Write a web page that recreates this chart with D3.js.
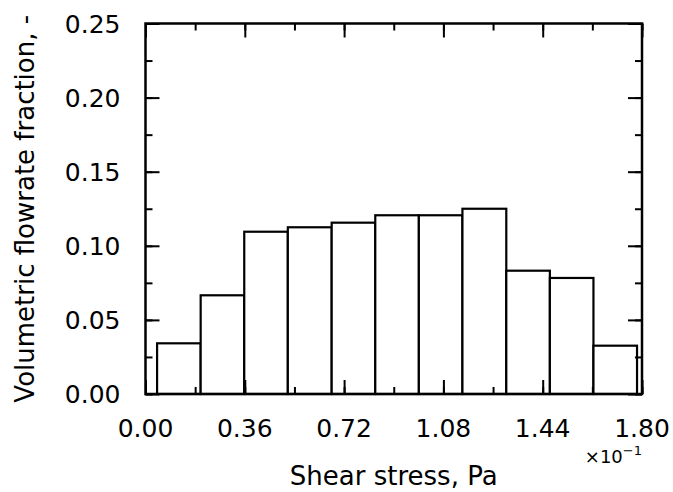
<!DOCTYPE html>
<html>
<head>
<meta charset="utf-8">
<script src="https://cdn.jsdelivr.net/npm/d3@7"></script>
<style>
  body { margin: 0; background: #fff; }
  text { font-family: "DejaVu Sans", sans-serif; fill: #000; }
</style>
</head>
<body>
<div id="chart"></div>
<script>
// bin edges (shear stress, x10^-1 Pa) and fraction in each bin
var binEdges = [0.042, 0.200, 0.358, 0.516, 0.675, 0.833, 0.991, 1.149, 1.308, 1.466, 1.624, 1.782];
var fractions = [0.0342, 0.0666, 0.1095, 0.1125, 0.1156, 0.1206, 0.1206, 0.1250, 0.0832, 0.0783, 0.0326];
var xTicks = [0.00, 0.36, 0.72, 1.08, 1.44, 1.80];
var yTicks = [0.00, 0.05, 0.10, 0.15, 0.20, 0.25];

var width = 673, height = 492;
var margin = {top: 23.5, right: 31, bottom: 98, left: 145.5};
var w = width - margin.left - margin.right,
    h = height - margin.top - margin.bottom;

var svg = d3.select("#chart").append("svg")
    .attr("width", width)
    .attr("height", height);

var g = svg.append("g")
    .attr("transform", "translate(" + margin.left + "," + margin.top + ")");

var x = d3.scaleLinear().domain([0, 1.80]).range([0, w]);
var y = d3.scaleLinear().domain([0, 0.25]).range([h, 0]);

var bins = fractions.map(function(f, i) {
    return {x0: binEdges[i], x1: binEdges[i + 1], v: f};
});

// bars
g.selectAll(".bar")
    .data(bins)
    .enter().append("rect")
    .attr("class", "bar")
    .attr("x", function(d) { return x(d.x0); })
    .attr("y", function(d) { return y(d.v); })
    .attr("width", function(d) { return x(d.x1) - x(d.x0); })
    .attr("height", function(d) { return h - y(d.v); })
    .attr("fill", "#fff")
    .attr("stroke", "#000")
    .attr("stroke-width", 2.2);

// minor tick values
var xMinor = d3.range(0, 11).map(function(i) { return i * 0.18; });
var yMinor = d3.range(0, 11).map(function(i) { return i * 0.025; });

function styleTicks(sel) {
    sel.select(".domain").remove();
    sel.selectAll(".tick line").attr("stroke", "#000").attr("stroke-width", 2);
}

// inward ticks on all four sides
var majorLen = 14, minorLen = 7;

g.append("g").attr("transform", "translate(0," + h + ")")
    .call(d3.axisTop(x).tickValues(xMinor).tickSize(minorLen).tickFormat(""))
    .call(styleTicks);
g.append("g").attr("transform", "translate(0," + h + ")")
    .call(d3.axisTop(x).tickValues(xTicks).tickSize(majorLen).tickFormat(""))
    .call(styleTicks);
g.append("g")
    .call(d3.axisBottom(x).tickValues(xMinor).tickSize(minorLen).tickFormat(""))
    .call(styleTicks);
g.append("g")
    .call(d3.axisBottom(x).tickValues(xTicks).tickSize(majorLen).tickFormat(""))
    .call(styleTicks);

g.append("g")
    .call(d3.axisRight(y).tickValues(yMinor).tickSize(minorLen).tickFormat(""))
    .call(styleTicks);
g.append("g")
    .call(d3.axisRight(y).tickValues(yTicks).tickSize(majorLen).tickFormat(""))
    .call(styleTicks);
g.append("g").attr("transform", "translate(" + w + ",0)")
    .call(d3.axisLeft(y).tickValues(yMinor).tickSize(minorLen).tickFormat(""))
    .call(styleTicks);
g.append("g").attr("transform", "translate(" + w + ",0)")
    .call(d3.axisLeft(y).tickValues(yTicks).tickSize(majorLen).tickFormat(""))
    .call(styleTicks);

// tick labels
g.selectAll(".xlab")
    .data(xTicks)
    .enter().append("text")
    .attr("class", "xlab")
    .attr("x", function(d) { return x(d); })
    .attr("y", h + 43)
    .attr("text-anchor", "middle")
    .style("font-size", "25px")
    .text(function(d) { return d.toFixed(2); });

g.selectAll(".ylab")
    .data(yTicks)
    .enter().append("text")
    .attr("class", "ylab")
    .attr("x", -25)
    .attr("y", function(d) { return y(d); })
    .attr("dy", "0.36em")
    .attr("text-anchor", "end")
    .style("font-size", "25px")
    .text(function(d) { return d.toFixed(2); });

// frame
g.append("rect")
    .attr("width", w)
    .attr("height", h)
    .attr("fill", "none")
    .attr("stroke", "#000")
    .attr("stroke-width", 2.5);

// offset text
var off = g.append("text")
    .attr("x", w)
    .attr("y", h + 69)
    .attr("text-anchor", "end")
    .style("font-size", "18px");
off.append("tspan").text("\u00d710");
off.append("tspan").attr("dy", -8).style("font-size", "13px").text("\u22121");

// axis titles
g.append("text")
    .attr("x", w / 2)
    .attr("y", h + 91)
    .attr("text-anchor", "middle")
    .style("font-size", "26px")
    .text("Shear stress, Pa");

g.append("text")
    .attr("transform", "translate(" + (-111.5) + "," + (h / 2) + ") rotate(-90)")
    .attr("text-anchor", "middle")
    .style("font-size", "26px")
    .text("Volumetric flowrate fraction, -");
</script>
</body>
</html>
